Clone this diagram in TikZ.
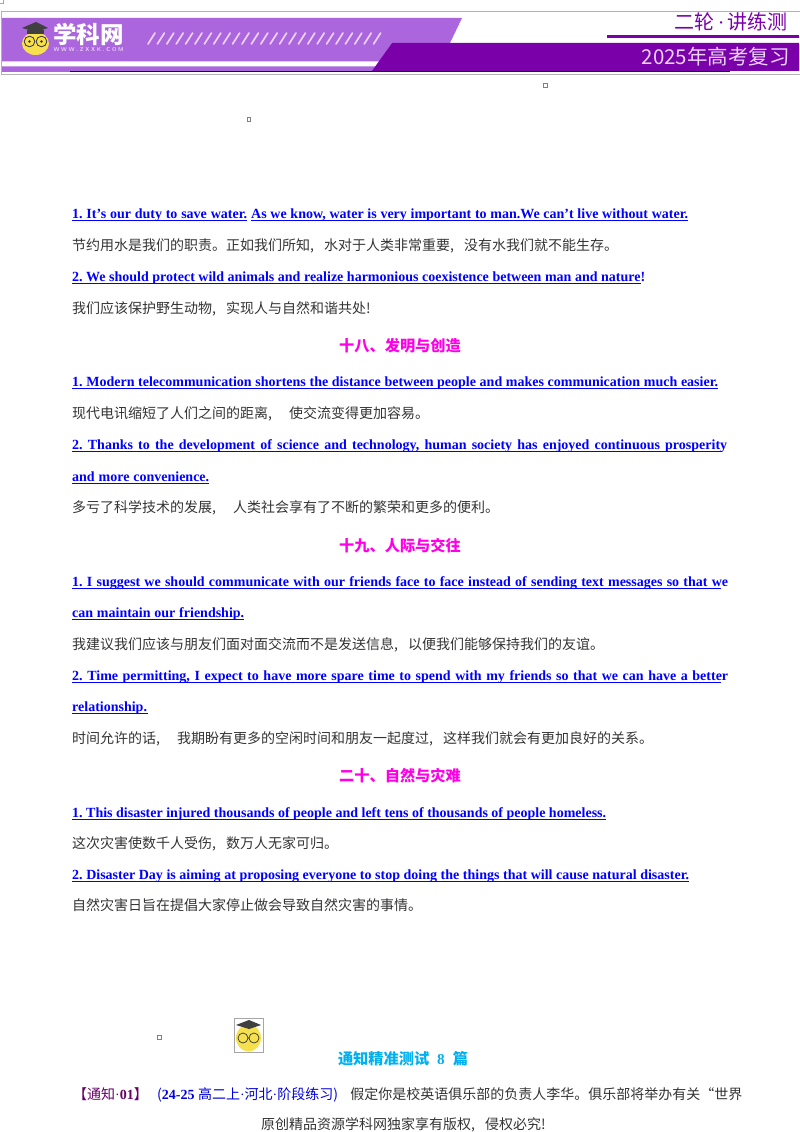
\documentclass[tikz,border=0pt]{standalone}
\usepackage{fontspec}
\setmainfont{Liberation Serif}
\newfontfamily\cjk{Noto Sans CJK SC}
\usetikzlibrary{positioning,calc}
\frenchspacing
\definecolor{lightband}{HTML}{AB66DE}
\definecolor{darkband}{HTML}{7A00AA}
\definecolor{paleband}{HTML}{EBD2F7}
\definecolor{bodygray}{HTML}{333333}
\definecolor{engblue}{HTML}{0000FF}
\definecolor{headpink}{HTML}{FF00E6}
\definecolor{headcyan}{HTML}{00B0F0}
\definecolor{facey}{HTML}{F7E04E}
\newcommand{\spread}[2]{\makebox[#1pt][s]{#2}}
\newcommand{\tdot}{{\rmfamily ·}}
\newcommand{\zc}{\makebox[14pt][l]{,}}
\newcommand{\zx}{\makebox[14pt][l]{!}}
\newcommand{\zl}{\makebox[14pt][r]{(}}
\newcommand{\zr}{\makebox[14pt][l]{)}}
\tikzset{
  eng/.style={anchor=base west, inner sep=0pt, text=engblue,
              font=\fontsize{14}{14}\selectfont\bfseries,
              append after command={
                ([yshift=-2.2pt]\tikzlastnode.base west) edge[draw=engblue, line width=1.1pt]
                ([xshift=-#1pt, yshift=-2.2pt]\tikzlastnode.base east)}},
  eng/.default=0,
  zh/.style={anchor=base west, inner sep=0pt, text=bodygray,
             font=\fontsize{14}{14}\selectfont\cjk},
  heading/.style={anchor=base, inner sep=0pt, text=headpink,
                  font=\fontsize{15.2}{15}\selectfont\cjk\bfseries},
  tinymark/.style={draw=gray, fill=white, line width=0.5pt, minimum size=3.5pt, inner sep=0pt},
  slash/.style={line width=1.7pt, draw=paleband, line cap=round}
}
\begin{document}
\begin{tikzpicture}[x=1pt, y=-1pt]
  \useasboundingbox (0,0) rectangle (800,1132);
  % header
  \draw[gray!60, line width=0.6pt] (1,11) rectangle (800,74);
  \fill[lightband] (2,18) -- (462,18) -- (450,43) -- (392,43) -- (372,72) -- (2,72) -- cycle;
  \fill[white] (2,61.5) -- (379,61.5) -- (376,66.5) -- (2,66.5) -- cycle;
  \fill[darkband] (392,43) -- (799,43) -- (799,71) -- (372,71) -- cycle;
  \draw[black!70!darkband, line width=1pt] (70,71.8) -- (730,71.8);
  \foreach \i in {0,...,24}
    \draw[slash] ({148+9.4*\i},44) -- ({155+9.4*\i},33);
  % logo
  \fill[facey] (35.5,43.5) ellipse (13.5 and 11.5);
  \fill[black!75] (22,28) -- (36,22) -- (48,28) -- (36,32) -- cycle;
  \fill[black!75] (27,30) rectangle (44,34);
  \draw[black!80, line width=0.8pt] (29.5,41.5) circle (5.3) (41.5,41.5) circle (5.3);
  \fill[black!80] (29.5,41.5) circle (1.3) (41.5,41.5) circle (1.3);
  \node[inner sep=0pt, text=white, anchor=base west, font=\fontsize{23.5}{24}\selectfont\cjk\bfseries] (xuekewang) at (53,44) {学科网};
  \node[inner sep=0pt, text=paleband, anchor=base west, font=\fontsize{5.6}{6}\selectfont\sffamily\bfseries] (wwwtag) at (53.5,52) {\spread{70}{W\hfil W\hfil W\hfil .\hfil Z\hfil X\hfil X\hfil K\hfil .\hfil C\hfil O\hfil M}};
  \node[inner sep=0pt, text=darkband, anchor=base east, font=\fontsize{20}{20}\selectfont\cjk] (erlun) at (788,30) {二轮\,\tdot\,讲练测};
  \draw[darkband, line width=2.6pt] (607,36.5) -- (799,36.5);
  \node[inner sep=0pt, text=paleband, anchor=base east, font=\fontsize{20.5}{21}\selectfont\cjk] (fuxi) at (790,64.5) {2025年高考复习};
  % little marks
  \node[tinymark] (marka) at (248.5,119) {};
  \node[tinymark] (markb) at (545,85) {};
  \node[tinymark] (markc) at (159,1037) {};
  \draw[gray!70, line width=0.5pt] (0,3) -- (3,3) -- (3,0);
  % body
  \node[eng] (s1a) at (72,218) {\spread{175}{1. It’s our duty to save water.}};
  \node[eng] (s1b) at (251,218) {\spread{437}{As we know, water is very important to man.We can’t live without water.}};
  \node[zh] (z1) at (72,250) {节约用水是我们的职责。正如我们所知\zc 水对于人类非常重要\zc 没有水我们就不能生存。};
  \node[eng=4] (s2) at (72,281) {\spread{573}{2. We should protect wild animals and realize harmonious coexistence between man and nature!}};
  \node[zh] (z2) at (72,313) {我们应该保护野生动物\zc 实现人与自然和谐共处\zx};
  \node[heading] (h18) at (400,351) {十八、发明与创造};
  \node[eng] (s3) at (72,386) {\spread{646}{1. Modern telecommunication shortens the distance between people and makes communication much easier.}};
  \node[zh] (z3) at (72,418) {现代电讯缩短了人们之间的距离\zc\hspace{7pt}使交流变得更加容易。};
  \node[eng=5] (s4) at (72,449) {\spread{655}{2. Thanks to the development of science and technology, human society has enjoyed continuous prosperity}};
  \node[eng] (s4b) at (72,481) {\spread{137}{and more convenience.}};
  \node[zh] (z4) at (72,512) {多亏了科学技术的发展\zc\hspace{7pt}人类社会享有了不断的繁荣和更多的便利。};
  \node[heading] (h19) at (400,551) {十九、人际与交往};
  \node[eng=7] (s5) at (72,586) {\spread{656}{1. I suggest we should communicate with our friends face to face instead of sending text messages so that we}};
  \node[eng] (s5b) at (72,617) {\spread{172}{can maintain our friendship.}};
  \node[zh] (z5) at (72,649) {我建议我们应该与朋友们面对面交流而不是发送信息\zc 以便我们能够保持我们的友谊。};
  \node[eng=7] (s6) at (72,680) {\spread{656}{2. Time permitting, I expect to have more spare time to spend with my friends so that we can have a better}};
  \node[eng] (s6b) at (72,711) {\spread{76}{relationship.}};
  \node[zh] (z6) at (72,743) {时间允许的话\zc\hspace{7pt}我期盼有更多的空闲时间和朋友一起度过\zc 这样我们就会有更加良好的关系。};
  \node[heading] (h20) at (400,781) {二十、自然与灾难};
  \node[eng] (s7) at (72,817) {\spread{534}{1. This disaster injured thousands of people and left tens of thousands of people homeless.}};
  \node[zh] (z7) at (72,848) {这次灾害使数千人受伤\zc 数万人无家可归。};
  \node[eng] (s8) at (72,879) {\spread{617}{2. Disaster Day is aiming at proposing everyone to stop doing the things that will cause natural disaster.}};
  \node[zh] (z8) at (72,910) {自然灾害日旨在提倡大家停止做会导致自然灾害的事情。};
  % small portrait
  \draw[gray!70, line width=0.6pt] (234,1018) rectangle (263,1052);
  \fill[facey] (248.5,1038) ellipse (12.5 and 13.5);
  \fill[black!75] (236,1025) -- (249,1020) -- (261,1025) -- (249,1029) -- cycle;
  \draw[black!80, line width=0.7pt] (243,1038) circle (5) (254,1038) circle (5);
  % test section
  \node[heading, text=headcyan] (htest) at (403,1064) {通知精准测试\hspace{8pt}{\rmfamily 8}\hspace{8pt}篇};
  \node[inner sep=0pt, anchor=base west, font=\fontsize{14}{14}\selectfont\cjk] (q1) at (73,1099) {\textcolor{violet!80!black}{【通知\tdot{\rmfamily\bfseries 01}】}\textcolor{engblue!85!black}{\zl{\rmfamily\bfseries 24-25}\hspace{3.5pt}高二上\tdot 河北\tdot 阶段练习\zr}\hspace{3pt}\textcolor{bodygray}{假定你是校英语俱乐部的负责人李华。俱乐部将举办有关“世界}};
  \node[inner sep=0pt, anchor=base, text=bodygray, font=\fontsize{14}{14}\selectfont\cjk] (foot) at (408,1129) {原创精品资源学科网独家享有版权\zc 侵权必究\zx};
\end{tikzpicture}
\end{document}
